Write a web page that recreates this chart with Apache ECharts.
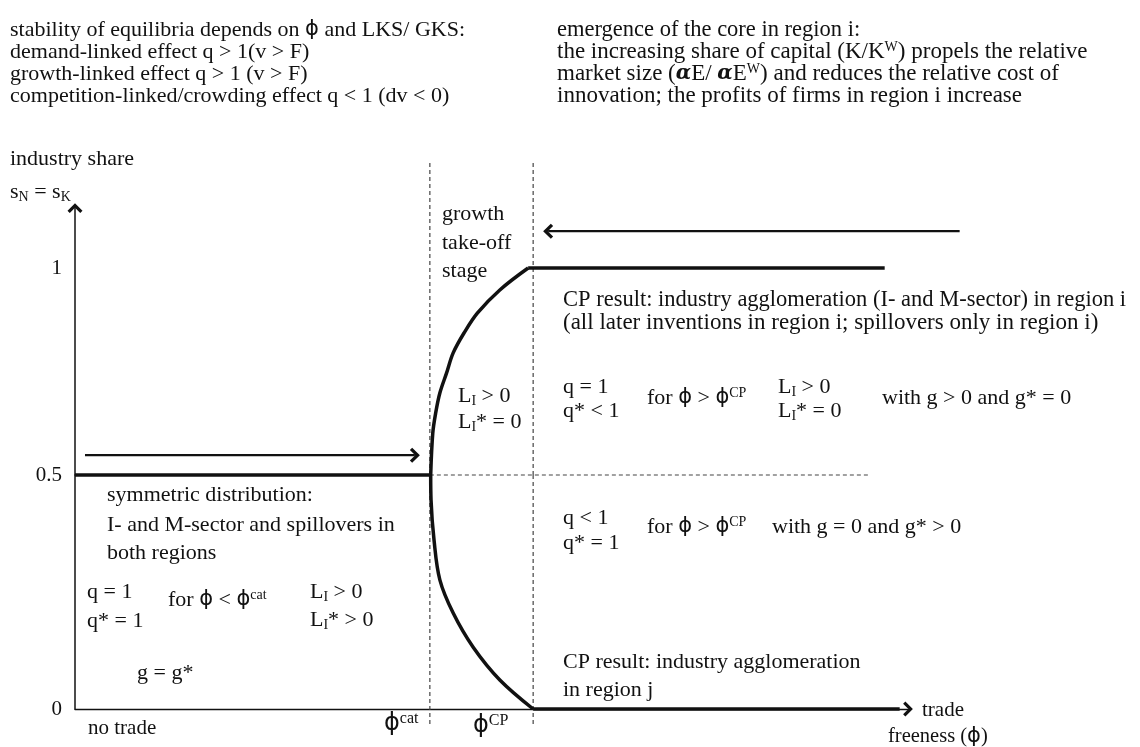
<!DOCTYPE html>
<html>
<head>
<meta charset="utf-8">
<script src="https://cdn.jsdelivr.net/npm/echarts@6/dist/echarts.min.js"></script>
<style>html,body{margin:0;padding:0;background:#fff}#c{width:1140px;height:747px}</style>
</head>
<body>
<div id="c"></div>
<script>
// ---- data (trade freeness phi on x, industry share s on y) ----
const phiCat = 0.426;
const phiCP = 0.55;
const tickValuesLow = [0, 0.5];
const tickValuesHigh = [1];
const symX = [0, 0.426];
const symY = [0.5, 0.5];
const upperX = [0.427, 0.4295, 0.433, 0.438, 0.446, 0.454, 0.467, 0.483, 0.510, 0.544];
const upperY = [0.5, 0.601, 0.650, 0.698, 0.746, 0.795, 0.843, 0.891, 0.947, 1.0];
const topFlatX = [0.544, 0.972];
const topFlatY = [1, 1];
const lowerX = [0.427, 0.4274, 0.431, 0.438, 0.454, 0.478, 0.510, 0.550];
const lowerY = [0.5, 0.447, 0.361, 0.276, 0.205, 0.132, 0.062, 0];
const bottomFlatX = [0.55, 0.99];
const bottomFlatY = [0, 0];
const dashLowY = [-0.032, 0.5];
const dashHighY = [0.5, 1.254];
const dashHorizX = [0.426, 0.952];
const dashHorizY = [0.5, 0.5];
const arrowInX = [0.012, 0.408];
const arrowInY = [0.548, 0.548];
const arrowOutX = [1.062, 0.568];
const arrowOutY = [1.089, 1.089];

const chevron = 'path://M10,0 L20,10 L17,13 L10,6 L3,13 L0,10 Z';
const INK = '#111';
const SERIF = 'Liberation Serif';
const FS = 22;

function pts(xs, ys) { return xs.map((x, i) => [x, ys[i]]); }

const chart = echarts.init(document.getElementById('c'), null, {renderer: 'canvas'});

function lineSeries(name, xs, ys, grid, extra) {
  return Object.assign({
    name, type: 'line', xAxisIndex: grid, yAxisIndex: grid,
    data: pts(xs, ys), symbol: 'none', clip: false, silent: true,
    lineStyle: {color: INK, width: 3.5}, animation: false, z: 3
  }, extra || {});
}
function dashSeries(name, xs, ys, grid) {
  return lineSeries(name, xs, ys, grid, {lineStyle: {color: '#444', width: 1.2, type: [4, 3]}, z: 2});
}
function arrowSeries(name, xs, ys, rot) {
  const d = pts(xs, ys);
  return {
    name, type: 'line', xAxisIndex: 1, yAxisIndex: 1, clip: false, silent: true, animation: false,
    showSymbol: true, symbolSize: [15, 10],
    data: [{value: d[0], symbol: 'none'}, {value: d[1], symbol: chevron, symbolRotate: rot}],
    lineStyle: {color: INK, width: 2.2}, itemStyle: {color: INK}, z: 4
  };
}

const base = {fontFamily: SERIF, fontSize: FS, fill: INK, lineHeight: 24};
const rich = {
  p: {fontFamily: 'DejaVu Sans', fontSize: 21, lineHeight: 24, fill: INK},
  pb: {fontFamily: 'DejaVu Sans', fontSize: 24, lineHeight: 26, fill: INK},
  sup: {fontFamily: SERIF, fontSize: 14, lineHeight: 14, verticalAlign: 'top', fill: INK},
  supb: {fontFamily: SERIF, fontSize: 16, lineHeight: 16, verticalAlign: 'top', fill: INK},
  sub: {fontFamily: SERIF, fontSize: 14, lineHeight: 14, verticalAlign: 'bottom', fill: INK},
  al: {fontFamily: 'DejaVu Serif', fontSize: 20, fontWeight: 'bold', fontStyle: 'italic', lineHeight: 24, fill: INK}
};
function T(x, y, text, size) {
  const st = Object.assign({}, base, {text, verticalAlign: 'middle', align: 'left', rich});
  if (size) st.fontSize = size;
  return {type: 'text', x, y, silent: true, z: 10, style: st};
}

const texts = [
  T(10, 30, 'stability of equilibria depends on {p|ϕ} and LKS/ GKS:'),
  T(10, 52, 'demand-linked effect q > 1(v > F)'),
  T(10, 74, 'growth-linked effect q > 1 (v > F)'),
  T(10, 96, 'competition-linked/crowding effect q < 1 (dv < 0)'),
  T(557, 30, 'emergence of the core in region i:', 22.5),
  T(557, 52, 'the increasing share of capital (K/K{sup|W}) propels the relative', 23),
  T(557, 74, 'market size ({al|α}E/ {al|α}E{sup|W}) and reduces the relative cost of', 23),
  T(557, 96, 'innovation; the profits of firms in region i increase', 23),
  T(10, 159, 'industry share'),
  T(10, 192, 's{sub|N} = s{sub|K}'),
  T(88, 728, 'no trade', 21),
  T(384, 724, '{pb|ϕ}{supb|cat}'),
  T(473, 726, '{pb|ϕ}{supb|CP}'),
  T(922, 710, 'trade', 21),
  T(888, 737, 'freeness ({p|ϕ})', 20.5),
  T(442, 214, 'growth'),
  T(442, 243, 'take-off'),
  T(442, 271, 'stage'),
  T(563, 300, 'CP result: industry agglomeration (I- and M-sector) in region i', 22.5),
  T(563, 323, '(all later inventions in region i; spillovers only in region i)', 23),
  T(458, 396, 'L{sub|I} > 0'),
  T(458, 422, 'L{sub|I}* = 0'),
  T(563, 387, 'q = 1'),
  T(563, 411, 'q* < 1'),
  T(647, 398, 'for {p|ϕ} > {p|ϕ}{sup|CP}'),
  T(778, 387, 'L{sub|I} > 0'),
  T(778, 411, 'L{sub|I}* = 0'),
  T(882, 398, 'with g > 0 and g* = 0'),
  T(563, 518, 'q < 1'),
  T(563, 543, 'q* = 1'),
  T(647, 527, 'for {p|ϕ} > {p|ϕ}{sup|CP}'),
  T(772, 527, 'with g = 0 and g* > 0'),
  T(563, 662, 'CP result: industry agglomeration'),
  T(563, 690, 'in region j'),
  T(107, 495, 'symmetric distribution:'),
  T(107, 525, 'I- and M-sector and spillovers in'),
  T(107, 553, 'both regions'),
  T(87, 592, 'q = 1'),
  T(87, 621, 'q* = 1'),
  T(168, 600, 'for {p|ϕ} < {p|ϕ}{sup|cat}'),
  T(310, 592, 'L{sub|I} > 0'),
  T(310, 620, 'L{sub|I}* > 0'),
  T(137, 673, 'g = g*')
];

const axisLab = {fontFamily: SERIF, fontSize: 21, color: INK, margin: 13};

const option = {
  backgroundColor: '#fff',
  animation: false,
  grid: [
    {left: 75, right: 232, top: 475, bottom: 38},
    {left: 75, right: 65, top: 208, bottom: 272}
  ],
  xAxis: [
    {gridIndex: 0, type: 'value', min: 0, max: 1,
      axisLine: {show: true, onZero: false, symbol: ['none', chevron], symbolSize: [15, 10], lineStyle: {color: INK, width: 1.3}},
      axisTick: {show: false}, axisLabel: {show: false}, splitLine: {show: false}},
    {gridIndex: 1, type: 'value', min: 0, max: 1000 / 833, show: false}
  ],
  yAxis: [
    {gridIndex: 0, type: 'value', min: 0, max: 0.5,
      axisLine: {show: true, onZero: false, lineStyle: {color: INK, width: 1.5}},
      axisTick: {show: false}, splitLine: {show: false},
      axisLabel: Object.assign({customValues: tickValuesLow, showMaxLabel: true}, axisLab)},
    {gridIndex: 1, type: 'value', min: 0.5, max: 1.145,
      axisLine: {show: true, onZero: false, symbol: ['none', chevron], symbolSize: [15, 10], lineStyle: {color: INK, width: 1.5}},
      axisTick: {show: false}, splitLine: {show: false},
      axisLabel: Object.assign({customValues: tickValuesHigh}, axisLab)}
  ],
  series: [
    dashSeries('phiCat-low', [phiCat, phiCat], dashLowY, 0),
    dashSeries('phiCat-high', [phiCat, phiCat], dashHighY, 1),
    dashSeries('phiCP-low', [phiCP, phiCP], dashLowY, 0),
    dashSeries('phiCP-high', [phiCP, phiCP], dashHighY, 1),
    dashSeries('half', dashHorizX, dashHorizY, 1),
    lineSeries('symmetric', symX, symY, 1),
    lineSeries('upper branch', upperX, upperY, 1, {smooth: 0.35}),
    lineSeries('core in i', topFlatX, topFlatY, 1),
    lineSeries('lower branch', lowerX, lowerY, 0, {smooth: 0.35}),
    lineSeries('core in j', bottomFlatX, bottomFlatY, 0),
    arrowSeries('towards symmetry', arrowInX, arrowInY, -90),
    arrowSeries('towards agglomeration', arrowOutX, arrowOutY, 90)
  ],
  graphic: texts
};
chart.setOption(option);
</script>
</body>
</html>
